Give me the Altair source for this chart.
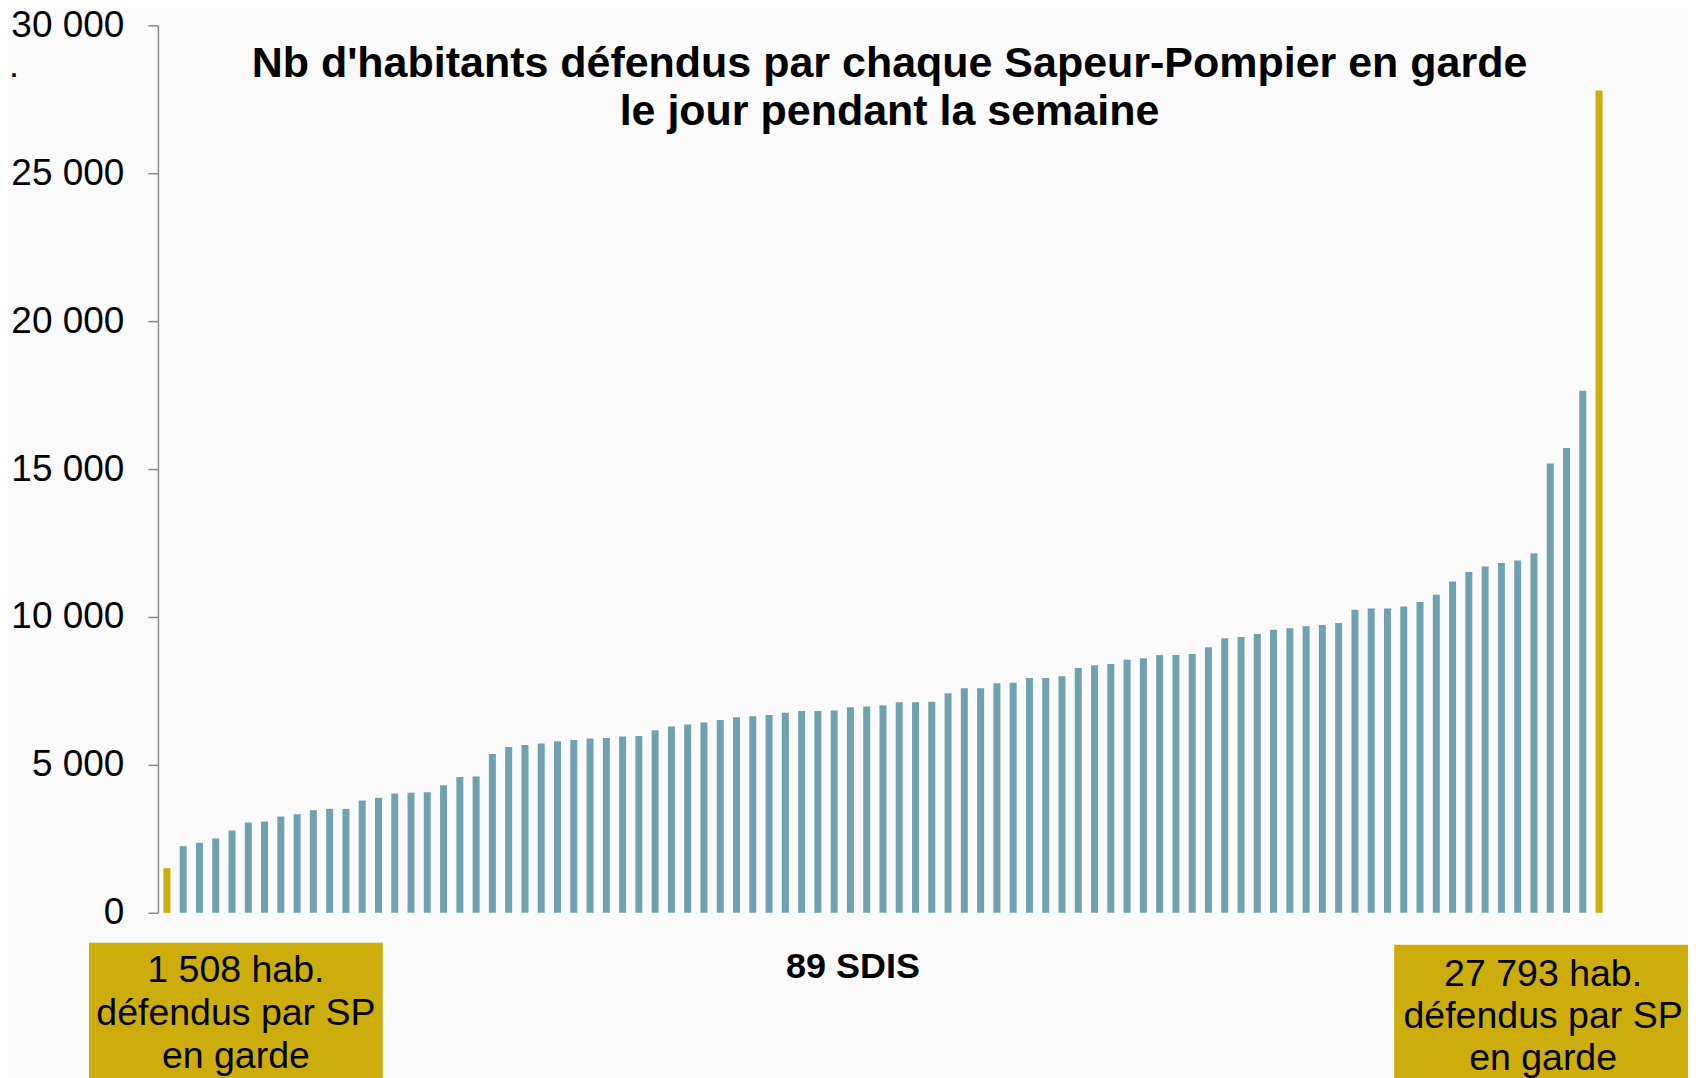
import altair as alt
import pandas as pd

# ---- data ----
rangs = list(range(1, 90))
valeurs = [1508, 2250, 2364, 2510, 2780, 3050, 3084, 3253, 3331, 3466,
           3513, 3513, 3793, 3884, 4030, 4054, 4074, 4311, 4594, 4605,
           5371, 5607, 5675, 5719, 5797, 5843, 5888, 5911, 5956, 5979,
           6168, 6293, 6361, 6428, 6519, 6608, 6642, 6687, 6766, 6822,
           6822, 6834, 6946, 6969, 7013, 7114, 7114, 7137, 7418, 7588,
           7588, 7757, 7780, 7938, 7938, 7993, 8276, 8364, 8411, 8556,
           8601, 8715, 8715, 8749, 8972, 9276, 9323, 9425, 9570, 9614,
           9682, 9728, 9795, 10245, 10283, 10283, 10357, 10506, 10752, 11201,
           11519, 11705, 11820, 11911, 12154, 15191, 15715, 17643, 27793]
groupes = ["extrême" if v in (min(valeurs), max(valeurs)) else "autre" for v in valeurs]
y_ticks = [0, 5000, 10000, 15000, 20000, 25000, 30000]

titre = ["Nb d'habitants défendus par chaque Sapeur-Pompier en garde",
         "le jour pendant la semaine"]
titre_x = "89 SDIS"
texte_min = ["1 508 hab.", "défendus par SP", "en garde"]
texte_max = ["27 793 hab.", "défendus par SP", "en garde"]

BLUE = "#70A1B1"
GOLD = "#CCAD0B"
FONT = "Liberation Sans"

df = pd.DataFrame({"rang": rangs, "valeur": valeurs, "groupe": groupes})

W, H = 1451, 888

bars = alt.Chart(df).mark_bar().encode(
    x=alt.X("rang:O",
            scale=alt.Scale(paddingInner=0.57, paddingOuter=0.338),
            axis=alt.Axis(labels=False, ticks=False, domain=False, title=titre_x,
                          titleFont=FONT, titleFontSize=36, titleFontWeight="bold",
                          titleColor="black", titleX=695, titleY=65,
                          titleBaseline="alphabetic", titleAlign="center")),
    y=alt.Y("valeur:Q",
            scale=alt.Scale(domain=[0, 30000], nice=False),
            axis=alt.Axis(values=y_ticks, title=None, grid=False,
                          labelExpr="replace(format(datum.value, ','), ',', ' ')",
                          labelFont=FONT, labelFontSize=37, labelColor="black",
                          labelPadding=24, tickSize=10, tickColor="#888888",
                          tickWidth=1.5, domainColor="#888888", domainWidth=1.5)),
    color=alt.Color("groupe:N",
                    scale=alt.Scale(domain=["autre", "extrême"], range=[BLUE, GOLD]),
                    legend=None),
)

one = alt.Data(values=[{"k": 0}])

title_mark = alt.Chart(one).mark_text(
    text=titre, font=FONT, fontSize=43, fontWeight="bold", color="black",
    align="center", baseline="alphabetic", lineHeight=48
).encode(x=alt.value(732), y=alt.value(52))

dot = alt.Chart(one).mark_text(
    text=".", font=FONT, fontSize=36, color="black", align="left", baseline="alphabetic"
).encode(x=alt.value(-149), y=alt.value(52))

box_min = alt.Chart(one).mark_rect(color=GOLD).encode(
    x=alt.value(-69), x2=alt.value(225), y=alt.value(918), y2=alt.value(1070))
box_max = alt.Chart(one).mark_rect(color=GOLD).encode(
    x=alt.value(1237), x2=alt.value(1540), y=alt.value(920), y2=alt.value(1070))

txt_min = alt.Chart(one).mark_text(
    text=texte_min, font=FONT, fontSize=37.5, color="black",
    align="center", baseline="alphabetic", lineHeight=43
).encode(x=alt.value(78), y=alt.value(957))
txt_max = alt.Chart(one).mark_text(
    text=texte_max, font=FONT, fontSize=37.5, color="black",
    align="center", baseline="alphabetic", lineHeight=42
).encode(x=alt.value(1386), y=alt.value(961))

chart = alt.layer(bars, title_mark, dot, box_min, box_max, txt_min, txt_max).properties(
    width=W, height=H,
    autosize=alt.AutoSizeParams(type="none"),
    padding={"left": 150, "top": 17, "right": 80, "bottom": 165},
    background="#fafafa",
).configure_view(stroke=None)

chart.save("out.html", embed_options={"renderer": "svg", "actions": False})
